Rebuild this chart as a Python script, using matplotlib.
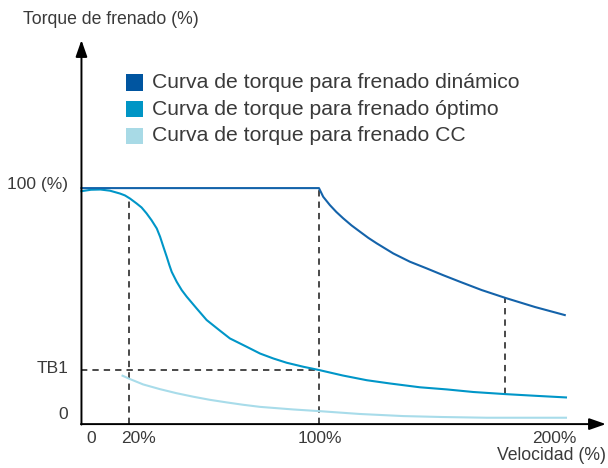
import numpy as np
import matplotlib
matplotlib.use("Agg")
import matplotlib.pyplot as plt
from matplotlib.patches import Rectangle

plt.rcParams["font.family"] = ["Liberation Sans", "DejaVu Sans"]

# valores (velocidad %, torque %)
speed_dyn = [0, 100, 101.8, 104.6, 107.3, 110.2, 113.7, 117.3, 120.8, 124.3, 131.3,
             138.3, 145.3, 152.3, 159.4, 168.5, 178.7, 191, 203.5]
torque_dyn = [100, 100, 96.3, 92.8, 89.9, 87.2, 84.2, 81.5, 78.9, 76.6, 72.3,
              68.8, 66.0, 63.1, 60.3, 56.8, 53.4, 49.6, 46.2]

speed_opt = [0, 4, 8, 12, 16.2, 18.3, 20.4, 23.2, 25.3, 27.4, 29.5, 31.7, 33.1, 34.5,
             35.9, 37.0, 38.0, 40.1, 42.2, 44.3, 48.5, 52.7, 58.3, 62.5, 69.5, 75.2,
             80.8, 86.4, 93.4, 100.1, 110, 120.1, 130, 142.5, 153.8, 165, 178.6, 191, 204]
torque_opt = [98.7, 99.3, 99.4, 98.9, 97.7, 96.9, 95.6, 93.5, 91.8, 89.3, 86.4, 82.9, 79.4, 75.1,
              70.9, 67.4, 64.5, 60.3, 56.8, 54.0, 49.0, 44.1, 39.6, 36.3, 32.8, 29.9,
              27.8, 26.0, 24.3, 22.9, 20.6, 18.6, 17.2, 15.6, 14.7, 13.6, 12.7, 12.0, 11.3]

speed_cc = [17.3, 20.4, 26, 33.1, 40, 47.1, 54, 61.1, 68, 75.2, 89.2, 100.1, 117,
            135.5, 152, 170.6, 204]
torque_cc = [20.5, 19.1, 16.8, 14.8, 13.1, 11.6, 10.3, 9.2, 8.2, 7.3, 6.2, 5.5, 4.3,
             3.4, 3.0, 2.7, 2.7]

TB1 = 22.9
marker_speeds = [20, 100, 178.5]

legend_labels = [
    "Curva de torque para frenado dinámico",
    "Curva de torque para frenado óptimo",
    "Curva de torque para frenado CC",
]
colors_square = ["#0055A0", "#0095C5", "#A8DAE6"]
colors_line = ["#1463AA", "#0096C8", "#A8DCEA"]

x_tick_labels = ["0", "20%", "100%", "200%"]
x_tick_pos = [4, 24.2, 100.5, 199]
y_tick_labels = ["100 (%)", "TB1", "0"]
y_tick_pos = [101.5, 23.7, 3.9]

TEXT = "#3a3a3a"
DASH = "#3a3a3a"

fig = plt.figure(figsize=(6.08, 4.68), dpi=100)
ax = fig.add_axes([0, 0, 1, 1])
ax.set_xlim(-34.3, 221.7)
ax.set_ylim(-18.6, 179.7)
ax.axis("off")

# lineas guia discontinuas
dash_style = dict(color=DASH, lw=1.3, linestyle=(0, (3.5, 2.8)), zorder=2)
y20 = np.interp(marker_speeds[0], speed_opt, torque_opt)
ax.plot([marker_speeds[0], marker_speeds[0]], [0, y20], **dash_style)
ax.plot([marker_speeds[1], marker_speeds[1]], [0, 100], **dash_style)
ax.plot([0, marker_speeds[1]], [TB1, TB1], **dash_style)
y_top = np.interp(marker_speeds[2], speed_dyn, torque_dyn)
y_bot = np.interp(marker_speeds[2], speed_opt, torque_opt)
ax.plot([marker_speeds[2], marker_speeds[2]], [y_bot, y_top], **dash_style)

# curvas
ax.plot(speed_cc, torque_cc, color=colors_line[2], lw=1.5, zorder=3, solid_joinstyle="round")
ax.plot(speed_opt, torque_opt, color=colors_line[1], lw=1.5, zorder=3, solid_joinstyle="round")
ax.plot(speed_dyn, torque_dyn, color=colors_line[0], lw=1.5, zorder=4, solid_joinstyle="round")

# ejes con flechas
arrow = dict(arrowstyle="-|>,head_length=1.0,head_width=0.35", color="black", lw=1.4,
             shrinkA=0, shrinkB=0, mutation_scale=10)
ax.annotate("", xy=(220.8, 0), xytext=(-0.2, 0), arrowprops=arrow, zorder=5)
ax.annotate("", xy=(0, 162.7), xytext=(0, -0.2), arrowprops=arrow, zorder=5)

# etiquetas de ejes
for pos, lab in zip(x_tick_pos, x_tick_labels):
    ax.text(pos, -6, lab, ha="center", va="center", fontsize=12.5, color=TEXT)
for pos, lab in zip(y_tick_pos, y_tick_labels):
    ax.text(-5.5, pos, lab, ha="right", va="center", fontsize=12.5, color=TEXT)

fig.text(23 / 608, 1 - 20 / 468, "Torque de frenado (%)", ha="left", va="center",
         fontsize=12.7, color=TEXT)
fig.text(606 / 608, 1 - 456 / 468, "Velocidad (%)", ha="right", va="center",
         fontsize=12.7, color=TEXT)

# leyenda manual
for i, (lab, col) in enumerate(zip(legend_labels, colors_square)):
    cy = 82.3 + i * 26.8
    fig.add_artist(Rectangle((126 / 608, 1 - (cy + 8.3) / 468), 16.7 / 608, 16.7 / 468,
                             transform=fig.transFigure, facecolor=col, edgecolor="none"))
    fig.text(152 / 608, 1 - cy / 468, lab, ha="left", va="center", fontsize=15.2,
             color=TEXT)

fig.savefig("out.png", dpi=100)
